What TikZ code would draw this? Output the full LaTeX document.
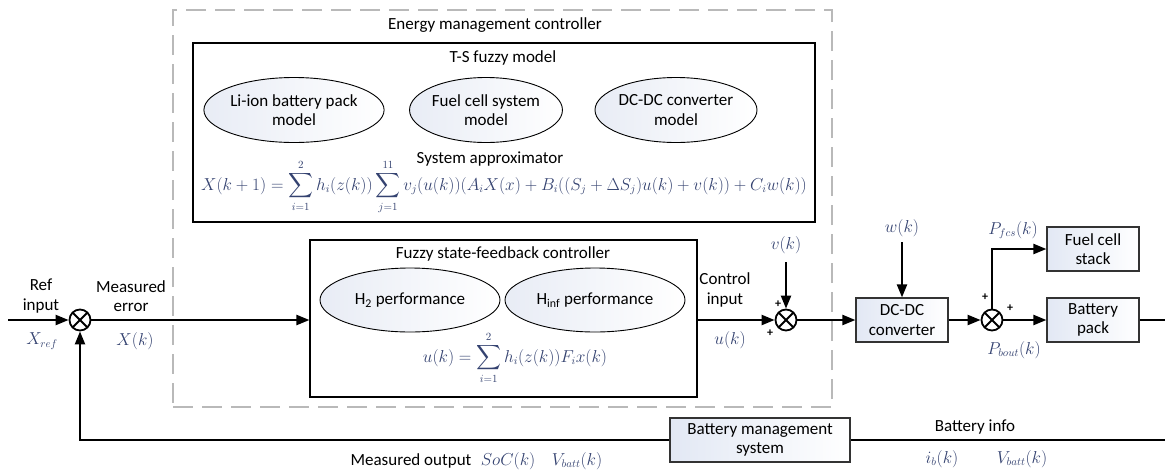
\documentclass[tikz,border=0pt]{standalone}
\usepackage{amsmath}
\usepackage{fontspec}
\setmainfont{Carlito}
\usetikzlibrary{arrows.meta,shapes.geometric,calc}
\definecolor{mathc}{RGB}{52,66,112}
\definecolor{boxfill}{RGB}{226,232,244}
\definecolor{ovalfill}{RGB}{232,236,245}
\definecolor{dashc}{RGB}{185,185,185}
\tikzset{
  lbl/.style={font=\fontsize{17}{19.5}\selectfont, align=center, inner sep=0},
  mth/.style={font=\fontsize{16}{18}\selectfont, inner sep=0, text=mathc},
  frame/.style={draw, line width=1.1pt},
  blockbox/.style={draw=black!80, line width=1.2pt, left color=boxfill, right color=white,
    font=\fontsize{17}{19.5}\selectfont, align=center, minimum width=92pt, minimum height=44pt, inner sep=1pt},
  oval/.style={ellipse, draw, line width=0.9pt, left color=ovalfill, right color=white,
    font=\fontsize{17}{19.5}\selectfont, align=center, inner sep=0},
  sumj/.style={circle, draw, line width=1.8pt, minimum size=21pt, inner sep=0,
    path picture={\draw[line width=1.8pt]
      (path picture bounding box.south west) -- (path picture bounding box.north east)
      (path picture bounding box.north west) -- (path picture bounding box.south east);}},
  sig/.style={line width=2.2pt},
  arr/.style={sig, -{Triangle[length=13pt,width=10pt]}},
  pm/.style={font=\fontsize{12}{12}\selectfont\bfseries, inner sep=0},
}
\begin{document}
\begin{tikzpicture}[x=1pt,y=-1pt]
\useasboundingbox (0,0) rectangle (1165,475);

% energy management controller (dashed frame)
\node[draw=dashc, line width=2.4pt, dash pattern=on 20pt off 9pt, minimum width=659pt, minimum height=397pt, inner sep=0] (emc) at (502.5,208.5) {};
\node[lbl] (emct) at (495,25) {Energy management controller};

% T-S fuzzy model
\node[frame, minimum width=622pt, minimum height=179pt, inner sep=0] (ts) at (504,132.5) {};
\node[lbl] (tst) at (503,58) {T-S fuzzy model};
\node[oval, minimum width=152pt, minimum height=65pt] (e1) at (294,110) {Li-ion battery pack\\model};
\node[oval, minimum width=152pt, minimum height=65pt] (e2) at (486,110) {Fuel cell system\\model};
\node[oval, minimum width=152pt, minimum height=65pt] (e3) at (676,110) {DC-DC converter\\model};
\node[lbl] (sat) at (490,159) {System approximator};
\node[mth] (sae) at (504,187) {$\displaystyle X(k+1)=\sum_{i=1}^{2}h_i(z(k))\sum_{j=1}^{11}v_j(u(k))(A_iX(x)+B_i((S_j+\Delta S_j)u(k)+v(k))+C_iw(k))$};

% fuzzy state-feedback controller
\node[frame, minimum width=387pt, minimum height=157pt, inner sep=0] (fsc) at (503.5,318.5) {};
\node[lbl] (fsct) at (503,254) {Fuzzy state-feedback controller};
\node[oval, minimum width=180pt, minimum height=64pt] (h2) at (410,300) {H\textsubscript{2} performance};
\node[oval, minimum width=180pt, minimum height=64pt] (hinf) at (595,300) {H\textsubscript{inf} performance};
\node[mth] (ue) at (515,358) {$\displaystyle u(k)=\sum_{i=1}^{2}h_i(z(k))F_ix(k)$};

% summing junctions
\node[sumj] (s1) at (80,320) {};
\node[sumj] (s2) at (786,320) {};
\node[sumj] (s3) at (992,320) {};

% plant blocks
\node[blockbox] (dc) at (902,320) {DC-DC\\converter};
\node[blockbox] (fcs) at (1093,249) {Fuel cell\\stack};
\node[blockbox] (bat) at (1093,320) {Battery\\pack};
\node[blockbox, minimum width=180pt] (bms) at (760,440) {Battery management\\system};

% free ends
\coordinate (xin) at (8,320);
\coordinate (vtop) at (786,262);
\coordinate (wtop) at (902,242);
\coordinate (outR) at (1165,320);
\coordinate (fbR) at (1165,440);

% signals
\draw[arr] (xin) -- (s1);
\draw[arr] (s1) -- (s1 -| fsc.west);
\draw[arr] (s1 -| fsc.east) -- (s2);
\draw[arr] (vtop) -- (s2);
\draw[arr] (s2) -- (dc);
\draw[arr] (wtop) -- (dc);
\draw[arr] (dc) -- (s3);
\draw[arr] (s3) -- (bat);
\draw[arr] (s3) |- (fcs);
\draw[sig] (bat) -- (outR);
\draw[sig] (fbR) -- (bms);
\draw[arr] (bms) -| (s1);

% labels
\node[lbl] (refl) at (41,296) {Ref\\input};
\node[mth] (xref) at (42,341) {$X_{ref}$};
\node[lbl] (merr) at (131,296) {Measured\\error};
\node[mth] (xk) at (135,341) {$X(k)$};
\node[lbl] (ctl) at (725,290) {Control\\input};
\node[mth] (uk) at (730,340) {$u(k)$};
\node[mth] (vk) at (786,245) {$v(k)$};
\node[mth] (wk) at (902,228) {$w(k)$};
\node[mth] (pfcs) at (1013,230) {$P_{fcs}(k)$};
\node[mth] (pbout) at (1014,350) {$P_{bout}(k)$};
\node[pm] (p1) at (778,304) {+};
\node[pm] (p2) at (770,333) {+};
\node[pm] (p3) at (985,297) {+};
\node[pm] (p4) at (1010,308) {+};
\node[lbl] (mout) at (411,461) {Measured output};
\node[mth] (soc) at (508,461) {$SoC(k)$};
\node[mth] (vb1) at (577,461) {$V_{batt}(k)$};
\node[lbl] (binf) at (975,427) {Battery info};
\node[mth] (ib) at (942,459) {$i_b(k)$};
\node[mth] (vb2) at (1022,459) {$V_{batt}(k)$};
\end{tikzpicture}
\end{document}
